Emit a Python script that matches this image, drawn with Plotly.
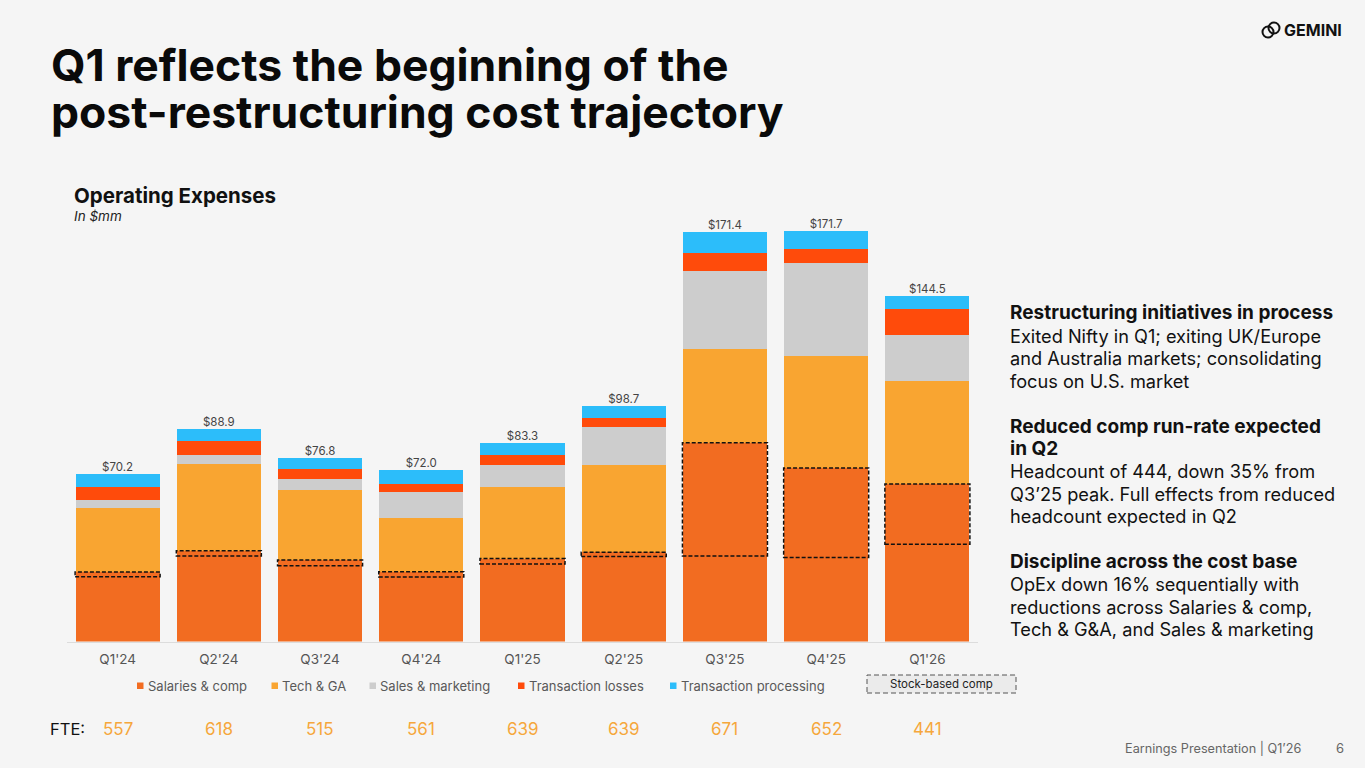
import plotly.graph_objects as go

W, H = 1365, 768

# --- data (in $mm) ---
quarters = ["Q1'24", "Q2'24", "Q3'24", "Q4'24", "Q1'25", "Q2'25", "Q3'25", "Q4'25", "Q1'26"]
salaries_comp = [29.1, 38.0, 34.1, 29.2, 34.7, 37.4, 83.2, 72.6, 65.9]
tech_ga = [26.9, 36.2, 29.3, 22.4, 30.1, 36.6, 39.1, 47.0, 43.1]
sales_marketing = [3.2, 3.9, 4.5, 11.1, 9.0, 16.0, 32.9, 38.9, 19.1]
transaction_losses = [5.6, 5.9, 4.4, 3.2, 4.2, 3.6, 7.5, 5.9, 11.1]
transaction_processing = [5.4, 4.9, 4.5, 6.1, 5.3, 5.1, 8.7, 7.3, 5.3]
stock_based_comp = [2.0, 2.2, 2.4, 2.2, 2.3, 1.8, 47.4, 37.4, 25.2]
totals = [70.2, 88.9, 76.8, 72.0, 83.3, 98.7, 171.4, 171.7, 144.5]
fte = [557, 618, 515, 561, 639, 639, 671, 652, 441]

series_names = ["Salaries & comp", "Tech & GA", "Sales & marketing",
                "Transaction losses", "Transaction processing"]
series_values = [salaries_comp, tech_ga, sales_marketing,
                 transaction_losses, transaction_processing]
series_colors = ["#f26c21", "#f9a531", "#cdcdcd", "#ff4b0b", "#2cbdfa"]

FONT = "Inter, Roboto, sans-serif"
BG = "#f5f5f5"


def fx(p):
    return p / W


def fy(p):
    return 1 - p / H


fig = go.Figure()

for name, vals, col in zip(series_names, series_values, series_colors):
    fig.add_trace(go.Bar(
        x=quarters, y=vals, name=name,
        marker=dict(color=col, line=dict(width=0)),
        showlegend=False,
    ))

# total labels above each stack
fig.add_trace(go.Scatter(
    x=quarters, y=totals, mode="text",
    text=[f"${t:.1f}" for t in totals],
    textposition="top center",
    textfont=dict(family=FONT, size=11.5, color="#444444"),
    showlegend=False, hoverinfo="skip",
))

# stock-based comp: dashed box at the top of Salaries & comp
half = 0.42
for i, (s, b) in enumerate(zip(salaries_comp, stock_based_comp)):
    fig.add_shape(type="rect", xref="x", yref="y",
                  x0=i - half, x1=i + half, y0=s - b, y1=s,
                  line=dict(color="#111111", width=1.5, dash="4px,2px"),
                  fillcolor="rgba(0,0,0,0)")

annotations = []

# title
annotations.append(dict(text="<b>Q1 reflects the beginning of the</b>", x=fx(49), y=fy(65),
                        xanchor="left", yanchor="middle",
                        font=dict(family=FONT, size=44.5, color="#0a0a0a")))
annotations.append(dict(text="<b>post-restructuring cost trajectory</b>", x=fx(49), y=fy(112),
                        xanchor="left", yanchor="middle",
                        font=dict(family=FONT, size=44.5, color="#0a0a0a")))

# chart heading
annotations.append(dict(text="<b>Operating Expenses</b>", x=fx(72), y=fy(195),
                        xanchor="left", yanchor="middle",
                        font=dict(family=FONT, size=20.5, color="#111111")))
annotations.append(dict(text="<i>In $mm</i>", x=fx(72), y=fy(216),
                        xanchor="left", yanchor="middle",
                        font=dict(family=FONT, size=13.5, color="#222222")))

# custom legend
legend_sq = [137, 271.5, 369.5, 518, 670]
for name, col, sx in zip(series_names, series_colors, legend_sq):
    fig.add_shape(type="rect", xref="paper", yref="paper",
                  x0=fx(sx), x1=fx(sx + 6.5), y0=fy(689), y1=fy(682.5),
                  fillcolor=col, line=dict(width=0))
    annotations.append(dict(text=name, x=fx(sx + 8.5), y=fy(685.5),
                            xanchor="left", yanchor="middle",
                            font=dict(family=FONT, size=13, color="#595959")))

# stock-based comp legend box
fig.add_shape(type="rect", xref="paper", yref="paper",
              x0=fx(867), x1=fx(1016), y0=fy(693), y1=fy(675),
              fillcolor="#ebebeb", line=dict(color="#555555", width=1, dash="5px,3px"))
annotations.append(dict(text="Stock-based comp", x=fx(941.5), y=fy(684),
                        xanchor="center", yanchor="middle",
                        font=dict(family=FONT, size=11.5, color="#222222")))

# FTE row
annotations.append(dict(text="FTE:", x=fx(48), y=fy(729),
                        xanchor="left", yanchor="middle",
                        font=dict(family=FONT, size=16.5, color="#111111")))
for q, n in zip(quarters, fte):
    annotations.append(dict(text=str(n), x=q, xref="x", y=fy(729), yref="paper",
                            xanchor="center", yanchor="middle",
                            font=dict(family=FONT, size=17, color="#f5a73c")))

# commentary on the right
commentary = [
    ("Restructuring initiatives in process", True),
    ("Exited Nifty in Q1; exiting UK/Europe", False),
    ("and Australia markets; consolidating", False),
    ("focus on U.S. market", False),
    ("", False),
    ("Reduced comp run-rate expected", True),
    ("in Q2", True),
    ("Headcount of 444, down 35% from", False),
    ("Q3\u201925 peak. Full effects from reduced", False),
    ("headcount expected in Q2", False),
    ("", False),
    ("Discipline across the cost base", True),
    ("OpEx down 16% sequentially with", False),
    ("reductions across Salaries & comp,", False),
    ("Tech & G&A, and Sales & marketing", False),
]
for i, (line, bold) in enumerate(commentary):
    if not line:
        continue
    annotations.append(dict(text=f"<b>{line}</b>" if bold else line,
                            x=fx(1008), y=fy(313 + i * 22.6),
                            xanchor="left", yanchor="middle",
                            font=dict(family=FONT, size=19 if bold else 18.2,
                                      color="#111111")))

# footer
annotations.append(dict(text="Earnings Presentation | Q1\u201926", x=fx(1123), y=fy(748),
                        xanchor="left", yanchor="middle",
                        font=dict(family=FONT, size=12.7, color="#666666")))
annotations.append(dict(text="6", x=fx(1340), y=fy(748),
                        xanchor="center", yanchor="middle",
                        font=dict(family=FONT, size=13, color="#666666")))

# logo
annotations.append(dict(text="<b>GEMINI</b>", x=fx(1282), y=fy(30.5),
                        xanchor="left", yanchor="middle",
                        font=dict(family=FONT, size=16, color="#111111")))
fig.add_shape(type="circle", xref="paper", yref="paper",
              x0=fx(1268.5), x1=fx(1279.5), y0=fy(33.5), y1=fy(22.5),
              line=dict(color="#111111", width=2))
fig.add_shape(type="circle", xref="paper", yref="paper",
              x0=fx(1262.5), x1=fx(1273.5), y0=fy(37.5), y1=fy(26.5),
              line=dict(color="#111111", width=2))

for a in annotations:
    a.setdefault("xref", "paper")
    a.setdefault("yref", "paper")
    a["showarrow"] = False

fig.update_layout(
    width=W, height=H,
    margin=dict(l=0, r=0, t=0, b=0),
    paper_bgcolor=BG, plot_bgcolor=BG,
    barmode="stack", bargap=0.17,
    font=dict(family=FONT),
    showlegend=False,
    annotations=annotations,
    xaxis=dict(domain=[fx(67), fx(978)], type="category",
               showgrid=False, zeroline=False,
               showline=True, linecolor="#dcdcdc", linewidth=1,
               ticks="", ticklabelstandoff=5,
               tickfont=dict(family=FONT, size=13.5, color="#555555"),
               fixedrange=True),
    yaxis=dict(domain=[fy(641.5), fy(211.5)], range=[0, 180],
               visible=False, fixedrange=True),
)

# the page body has a default 8px margin; remove it so the slide fills the window
fig.write_html("out.html", config={"displayModeBar": False},
               post_script="document.body.style.margin='0';")
